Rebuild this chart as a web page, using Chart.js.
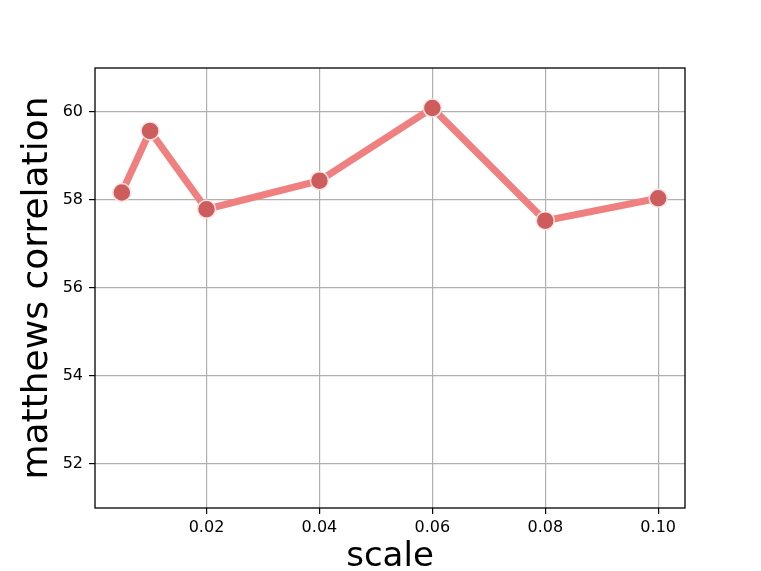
<!DOCTYPE html>
<html>
<head>
<meta charset="utf-8">
<script src="https://cdn.jsdelivr.net/npm/chart.js@4/dist/chart.umd.min.js"></script>
<style>
html,body{margin:0;padding:0;background:#fff;}
canvas{display:block;}
</style>
</head>
<body>
<canvas id="c" width="761" height="571" style="width:761px;height:571px"></canvas>
<script>
const scaleValues = [0.005, 0.01, 0.02, 0.04, 0.06, 0.08, 0.10];
const mccValues = [58.17, 59.57, 57.79, 58.44, 60.09, 57.53, 58.04];
const xTickValues = [0.02, 0.04, 0.06, 0.08, 0.10];
const yTickValues = [52, 54, 56, 58, 60];
const xTitle = 'scale';
const yTitle = 'matthews correlation';

const FONT = 'DejaVu Sans';

const frame = {
  id: 'frame',
  afterDatasetsDraw(chart) {
    const a = chart.chartArea, ctx = chart.ctx;
    ctx.save();
    ctx.strokeStyle = '#000';
    ctx.lineWidth = 1.3;
    ctx.strokeRect(a.left, a.top, a.right - a.left, a.bottom - a.top);
    ctx.restore();
  }
};
const bg = {
  id: 'bg',
  beforeDraw(chart) {
    const ctx = chart.ctx;
    ctx.save(); ctx.fillStyle = '#fff'; ctx.fillRect(0, 0, chart.width, chart.height); ctx.restore();
  }
};

new Chart(document.getElementById('c'), {
  type: 'line',
  data: {
    datasets: [{
      data: scaleValues.map((x, i) => ({x: x, y: mccValues[i]})),
      borderColor: '#F08080',
      borderWidth: 7,
      backgroundColor: '#CD5C5C',
      pointBackgroundColor: '#CD5C5C',
      pointBorderColor: '#FDE3E3',
      pointBorderWidth: 1.5,
      pointRadius: 9,
      tension: 0,
      clip: false
    }]
  },
  options: {
    responsive: false,
    animation: false,
    devicePixelRatio: 1,
    layout: { padding: { left: 0, top: 68, right: 76, bottom: 0 } },
    plugins: { legend: { display: false }, tooltip: { enabled: false } },
    scales: {
      x: {
        type: 'linear',
        min: 0.00025,
        max: 0.10475,
        afterBuildTicks: (axis) => { axis.ticks = xTickValues.map(v => ({value: v})); },
        afterFit: (s) => { s.height = 63; },
        ticks: {
          color: '#000', font: { family: FONT, size: 16 }, padding: 4,
          maxRotation: 0, autoSkip: false,
          callback: (v) => Number(v).toFixed(2)
        },
        grid: { color: '#b0b0b0', lineWidth: 1.2, tickColor: '#000', tickLength: 6, drawOnChartArea: true },
        border: { display: false },
        title: {
          display: true, text: xTitle, color: '#000',
          font: { family: FONT, size: 34, lineHeight: 1 }, padding: { top: 0, bottom: -3 }
        }
      },
      y: {
        type: 'linear',
        min: 51,
        max: 61,
        afterBuildTicks: (axis) => { axis.ticks = yTickValues.map(v => ({value: v})); },
        afterFit: (s) => { s.width = 95; },
        ticks: {
          color: '#000', font: { family: FONT, size: 16 }, padding: 6,
          autoSkip: false,
          callback: (v) => String(v)
        },
        grid: { color: '#b0b0b0', lineWidth: 1.2, tickColor: '#000', tickLength: 6 },
        border: { display: false },
        title: {
          display: true, text: yTitle, color: '#000',
          font: { family: FONT, size: 36, lineHeight: 1 }, padding: { top: 20, bottom: 0 }
        }
      }
    }
  },
  plugins: [bg, frame]
});
</script>
</body>
</html>
